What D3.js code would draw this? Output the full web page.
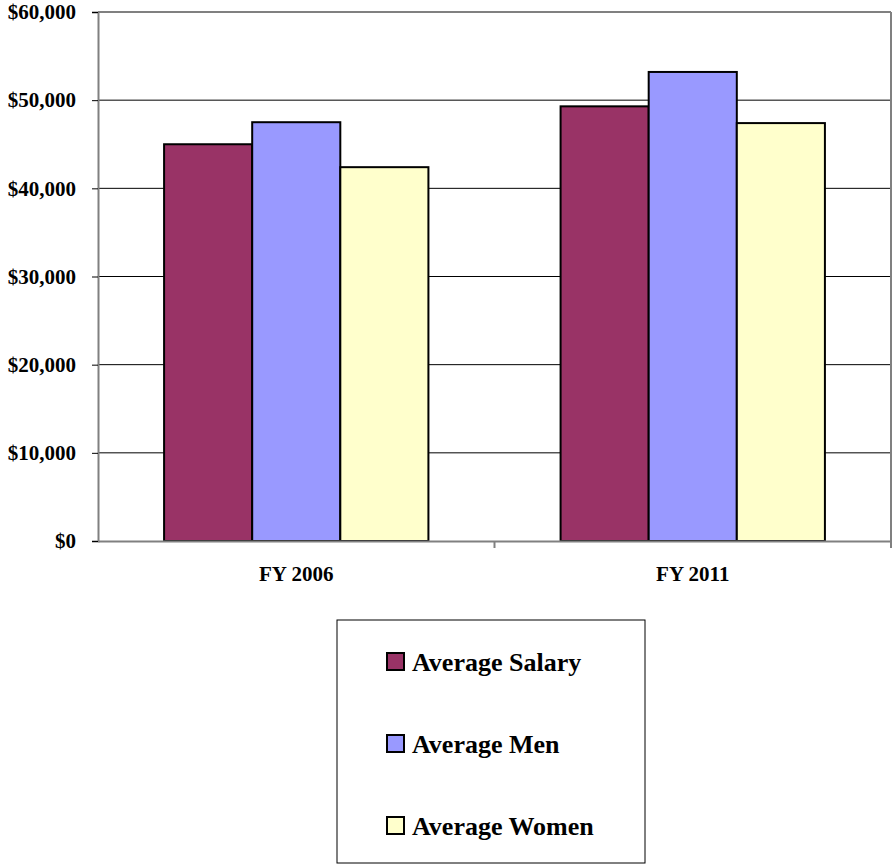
<!DOCTYPE html>
<html>
<head>
<meta charset="utf-8">
<script src="https://cdn.jsdelivr.net/npm/d3@7"></script>
<style>
  body { margin: 0; background: #fff; }
  text { font-family: "Liberation Serif", "Times New Roman", serif !important; font-weight: bold; fill: #000; }
</style>
</head>
<body>
<svg id="chart"></svg>
<script>
// data
const categories = ["FY 2006", "FY 2011"];
const seriesNames = ["Average Salary", "Average Men", "Average Women"];
const seriesColors = ["#993366", "#9999FF", "#FFFFCC"];
const salaryValues = [45000, 49300];
const menValues = [47500, 53200];
const womenValues = [42400, 47400];
const yTicks = [0, 10000, 20000, 30000, 40000, 50000, 60000];

const seriesValues = [salaryValues, menValues, womenValues];

const width = 893, height = 867;
const margin = { top: 12, right: 2, bottom: 326, left: 98 };
const plotW = width - margin.left - margin.right;
const plotH = height - margin.top - margin.bottom;

const svg = d3.select("#chart").attr("width", width).attr("height", height);
const g = svg.append("g").attr("transform", `translate(${margin.left},${margin.top})`);

const x0 = d3.scaleBand().domain(categories).range([0, plotW]).paddingInner(0).paddingOuter(0);
// gap of 1.5 bar widths between groups
const x1 = d3.scaleBand().domain(seriesNames).range([0, x0.bandwidth()]).paddingInner(0).paddingOuter(0.75);
const y = d3.scaleLinear().domain([0, 60000]).range([plotH, 0]);

// gridlines
g.append("g").selectAll("line")
  .data(yTicks.filter(d => d > 0 && d < 60000))
  .join("line")
  .attr("x1", 0).attr("x2", plotW)
  .attr("y1", d => y(d)).attr("y2", d => y(d))
  .attr("stroke", "#000").attr("stroke-width", 1);

// plot border (top and right)
g.append("line").attr("x1", 0).attr("x2", plotW).attr("y1", y(60000)).attr("y2", y(60000))
  .attr("stroke", "#808080").attr("stroke-width", 2);
g.append("line").attr("x1", plotW).attr("x2", plotW).attr("y1", 0).attr("y2", plotH)
  .attr("stroke", "#808080").attr("stroke-width", 2);

// bars
const groups = g.append("g").selectAll("g")
  .data(categories)
  .join("g")
  .attr("transform", d => `translate(${x0(d)},0)`);

groups.selectAll("rect")
  .data((c, i) => seriesNames.map((s, j) => ({ s, j, v: seriesValues[j][i] })))
  .join("rect")
  .attr("x", d => x1(d.s))
  .attr("width", x1.bandwidth())
  .attr("y", d => y(d.v))
  .attr("height", d => y(0) - y(d.v))
  .attr("fill", d => seriesColors[d.j])
  .attr("stroke", "#000")
  .attr("stroke-width", 2);

// y axis
const yAxis = g.append("g")
  .call(d3.axisLeft(y).tickValues(yTicks).tickSize(6).tickPadding(16)
    .tickFormat(d => "$" + d3.format(",")(d)));
yAxis.select(".domain").attr("stroke", "#808080").attr("stroke-width", 2);
yAxis.selectAll(".tick line").attr("stroke", "#000");
yAxis.selectAll("text").style("font-size", "21px");

// x axis
const xAxis = g.append("g").attr("transform", `translate(0,${plotH})`)
  .call(d3.axisBottom(x0).tickSize(0).tickPadding(25));
xAxis.select(".domain").attr("stroke", "#808080").attr("stroke-width", 2);
xAxis.selectAll("text").style("font-size", "21px");
// separator ticks between categories
g.append("g").selectAll("line")
  .data([x0.bandwidth(), plotW])
  .join("line")
  .attr("x1", d => d).attr("x2", d => d)
  .attr("y1", plotH).attr("y2", plotH + 7)
  .attr("stroke", "#808080").attr("stroke-width", 2);

// legend
const legend = svg.append("g").attr("transform", "translate(337,620)");
legend.append("rect").attr("width", 308).attr("height", 243)
  .attr("fill", "#fff").attr("stroke", "#000").attr("stroke-width", 1);

const rows = legend.selectAll("g.row")
  .data(seriesNames)
  .join("g")
  .attr("class", "row")
  .attr("transform", (d, i) => `translate(50,${33 + i * 82})`);
rows.append("rect")
  .attr("width", 17).attr("height", 17)
  .attr("fill", (d, i) => seriesColors[i])
  .attr("stroke", "#000").attr("stroke-width", 2);
rows.append("text")
  .attr("x", 25).attr("y", 9).attr("dy", "0.35em")
  .style("font-size", "26px")
  .text(d => d);
</script>
</body>
</html>
